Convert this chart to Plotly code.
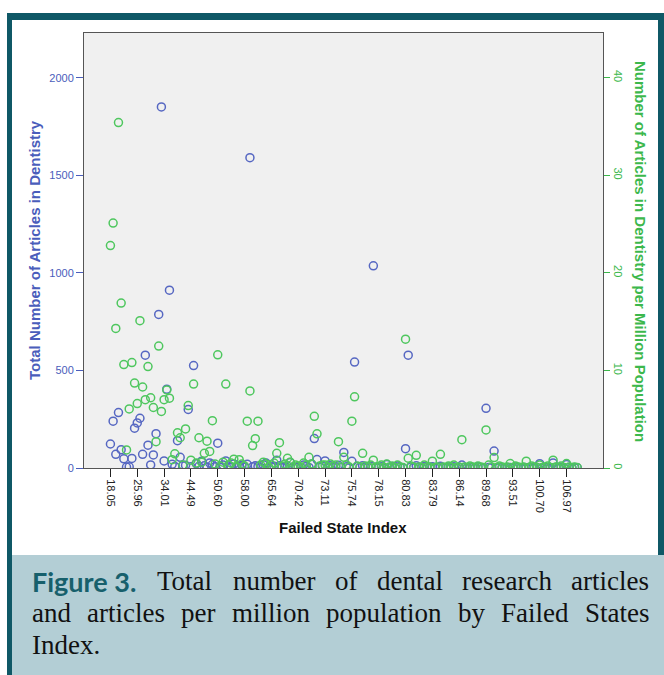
import plotly.graph_objects as go

# Failed State Index categories (countries ranked by FSI score); only every 10th is labelled
tick_positions = [0, 10, 20, 30, 40, 50, 60, 70, 80, 90, 100, 110, 120, 130, 140, 150, 160, 170]
tick_labels = ["18.05", "25.96", "34.01", "44.49", "50.60", "58.00", "65.64", "70.42", "73.11",
               "75.74", "78.15", "80.83", "83.79", "86.14", "89.68", "93.51", "100.70", "106.97"]

# Total number of articles in dentistry, one value per country (FSI rank order)
total_articles = [
    123, 240, 70, 284, 94, 47, 5, 6, 49, 204,
    231, 255, 70, 578, 117, 16, 67, 176, 787, 1850,
    36, 404, 911, 19, 8, 140, 55, 12, 14, 300,
    6, 525, 22, 9, 35, 11, 4, 26, 18, 7,
    127, 3, 15, 36, 10, 5, 21, 2, 9, 14,
    4, 19, 1590, 6, 11, 8, 3, 17, 25, 2,
    5, 9, 40, 12, 3, 7, 10, 28, 2, 4,
    6, 1, 15, 8, 3, 20, 151, 43, 5, 9,
    36, 2, 11, 4, 7, 14, 3, 80, 6, 1,
    34, 543, 8, 2, 12, 5, 3, 9, 1036, 4,
    2, 7, 1, 18, 3, 6, 2, 10, 4, 1,
    99, 578, 5, 2, 12, 3, 1, 8, 2, 4,
    6, 1, 3, 9, 2, 1, 5, 2, 7, 1,
    3, 15, 2, 1, 4, 2, 1, 6, 2, 1,
    306, 3, 2, 87, 1, 4, 2, 1, 3, 2,
    1, 5, 2, 1, 3, 1, 2, 4, 1, 2,
    22, 1, 3, 2, 1, 26, 2, 1, 4, 1,
    18, 2, 1, 3, 1,
]

# Articles in dentistry per million population, same country order
per_million = [
    22.8, 25.1, 14.3, 35.4, 16.9, 10.6, 1.85, 6.05, 10.8, 8.7,
    6.6, 15.1, 8.3, 7.0, 10.4, 7.2, 6.2, 2.7, 12.5, 5.8,
    7.0, 8.0, 7.15, 0.85, 1.45, 3.6, 3.1, 0.3, 4.0, 6.4,
    0.8, 8.6, 0.5, 3.1, 0.6, 1.5, 2.75, 1.7, 4.85, 0.4,
    11.6, 0.2, 0.6, 8.6, 0.3, 0.5, 0.9, 0.1, 0.85, 0.4,
    0.2, 4.8, 7.9, 2.3, 3.0, 4.8, 0.3, 0.6, 0.4, 0.1,
    0.3, 0.5, 1.5, 2.6, 0.2, 0.4, 1.0, 0.6, 0.1, 0.3,
    0.2, 0.1, 0.5, 0.3, 1.1, 0.4, 5.3, 3.5, 0.2, 0.3,
    0.3, 0.1, 0.4, 0.2, 0.3, 2.7, 0.1, 1.1, 0.3, 0.1,
    4.8, 7.3, 0.2, 0.1, 1.5, 0.2, 0.1, 0.3, 0.8, 0.1,
    0.1, 0.3, 0.05, 0.4, 0.1, 0.2, 0.05, 0.3, 0.1, 0.05,
    13.2, 1.0, 0.2, 0.1, 1.3, 0.1, 0.05, 0.3, 0.1, 0.1,
    0.7, 0.05, 0.1, 1.4, 0.1, 0.05, 0.2, 0.1, 0.3, 0.05,
    0.1, 2.9, 0.1, 0.05, 0.2, 0.1, 0.05, 0.2, 0.1, 0.05,
    3.9, 0.3, 0.1, 1.07, 0.05, 0.2, 0.1, 0.05, 0.1, 0.45,
    0.05, 0.2, 0.1, 0.05, 0.1, 0.7, 0.05, 0.2, 0.1, 0.05,
    0.3, 0.05, 0.1, 0.2, 0.05, 0.8, 0.1, 0.05, 0.2, 0.05,
    0.45, 0.1, 0.05, 0.1, 0.05,
]

country_rank = list(range(len(total_articles)))

BLUE = "#5667c2"
BLUE_TEXT = "#4a5dbb"
GREEN = "#4ec75e"
GREEN_TEXT = "#3cb84c"
TEAL = "#0f5866"
CAPTION_BG = "#b3ced5"
SANS = "Liberation Sans, Arial, sans-serif"
SERIF = "Liberation Serif, Times New Roman, serif"

W, H = 664, 675
L, R, T, B = 84, 61, 33, 207


def px(x):
    return (x - L) / (W - L - R)


def py(y):
    return (H - B - y) / (H - T - B)


fig = go.Figure()
fig.add_trace(go.Scatter(
    x=country_rank, y=total_articles, mode="markers", yaxis="y",
    marker=dict(symbol="circle-open", size=8, color=BLUE, line=dict(width=1.5, color=BLUE)),
    showlegend=False,
))
fig.add_trace(go.Scatter(
    x=country_rank, y=per_million, mode="markers", yaxis="y2",
    marker=dict(symbol="circle-open", size=8, color=GREEN, line=dict(width=1.5, color=GREEN)),
    showlegend=False,
))

shapes = [
    # journal frame: top band, left and right rules
    dict(type="rect", xref="paper", yref="paper", x0=px(7), x1=px(664), y0=py(13), y1=py(20),
         fillcolor=TEAL, line=dict(width=0), layer="below"),
    dict(type="rect", xref="paper", yref="paper", x0=px(7), x1=px(12), y0=py(13), y1=py(675),
         fillcolor=TEAL, line=dict(width=0), layer="below"),
    dict(type="rect", xref="paper", yref="paper", x0=px(658), x1=px(664), y0=py(13), y1=py(560),
         fillcolor=TEAL, line=dict(width=0), layer="below"),
    # caption panel
    dict(type="rect", xref="paper", yref="paper", x0=px(12), x1=px(664), y0=py(555), y1=py(675),
         fillcolor=CAPTION_BG, line=dict(width=0), layer="below"),
]

annotations = [
    dict(text="<b>Total Number of Articles in Dentistry</b>", x=px(34), y=py(250),
         xref="paper", yref="paper", showarrow=False, textangle=-90,
         font=dict(family=SANS, size=15, color=BLUE_TEXT), xanchor="center", yanchor="middle"),
    dict(text="<b>Number of Articles in Dentistry per Million Population</b>", x=px(640), y=py(251),
         xref="paper", yref="paper", showarrow=False, textangle=90,
         font=dict(family=SANS, size=15, color=GREEN_TEXT), xanchor="center", yanchor="middle"),
    dict(text="<b>Failed State Index</b>", x=px(343), y=py(527),
         xref="paper", yref="paper", showarrow=False,
         font=dict(family=SANS, size=15, color="#111111"), xanchor="center", yanchor="middle"),
]

# caption, laid out word by word so both full lines are justified
caption_lines = [
    [("Figure 3.", 30), ("Total", 155), ("number", 231), ("of", 333), ("dental", 375),
     ("research", 460), ("articles", 569)],
    [("and", 30), ("articles", 85), ("per", 179), ("million", 230), ("population", 324),
     ("by", 456), ("Failed", 499), ("States", 583)],
    [("Index.", 30)],
]
line_y = [581, 613, 645]
for words, yc in zip(caption_lines, line_y):
    for word, xl in words:
        if word == "Figure 3.":
            font = dict(family="Lato, Open Sans, sans-serif", size=27, color="#17606c")
            text = "<b>" + word + "</b>"
        else:
            font = dict(family=SERIF, size=27, color="#111111")
            text = word
        annotations.append(dict(text=text, x=px(xl), y=py(yc), xref="paper", yref="paper",
                                showarrow=False, xanchor="left", yanchor="middle", font=font))

fig.update_layout(
    width=W, height=H,
    margin=dict(l=L, r=R, t=T, b=B, pad=0),
    paper_bgcolor="white",
    plot_bgcolor="#f0f0f0",
    shapes=shapes,
    annotations=annotations,
    xaxis=dict(
        range=[-9.85, 183.6], tickmode="array", tickvals=tick_positions, ticktext=tick_labels,
        tickangle=90, ticks="outside", ticklen=8, tickcolor="#222222", tickwidth=1,
        tickfont=dict(family=SANS, size=11, color="#222222"),
        showgrid=False, zeroline=False, showline=True, linecolor="#555555", linewidth=1, mirror=True,
    ),
    yaxis=dict(
        range=[0, 2229], tickmode="array", tickvals=[0, 500, 1000, 1500, 2000],
        ticks="outside", ticklen=7, tickcolor=BLUE_TEXT, tickwidth=1,
        tickfont=dict(family=SANS, size=11, color=BLUE_TEXT),
        showgrid=False, zeroline=False, showline=True, linecolor="#555555", linewidth=1, mirror=True,
    ),
    yaxis2=dict(
        range=[0, 44.58], overlaying="y", side="right", tickmode="array",
        tickvals=[0, 10, 20, 30, 40], tickangle=90,
        ticks="outside", ticklen=6, tickcolor=GREEN_TEXT, tickwidth=1,
        tickfont=dict(family=SANS, size=11, color=GREEN_TEXT),
        showgrid=False, zeroline=False, showline=False,
    ),
)

fig.write_html("out.html")
